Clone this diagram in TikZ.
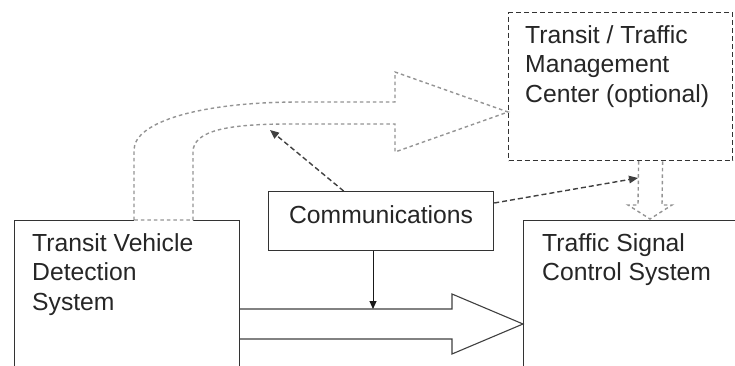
\documentclass[tikz,border=0pt]{standalone}
\usepackage{fontspec}
\setmainfont{Liberation Sans}
\usetikzlibrary{arrows.meta,positioning,calc}

\begin{document}
\begin{tikzpicture}[
  x=1pt, y=-1pt,
  font=\fontsize{24.7}{29.5}\selectfont,
  sysbox/.style={draw=black!80, line width=1.2pt, inner sep=0pt, anchor=north west},
  optbox/.style={sysbox, dash pattern=on 5pt off 3pt},
  txt/.style={inner sep=0pt, align=left, anchor=north west, text=black!85},
  ar/.style={-{Triangle[length=8pt,width=7pt]}, line width=1pt, black!90},
  dar/.style={-{Triangle[length=9pt,width=7.5pt]}, line width=1.4pt, black!75,
              dash pattern=on 5pt off 3pt},
  hollow/.style={line width=1.1pt, black!75, line join=miter},
  dotline/.style={line width=1.4pt, black!42, dash pattern=on 3.5pt off 3pt}
]
\path[fill=white, use as bounding box] (0,0) rectangle (735,366);
\clip (0,0) rectangle (735,366);

% --- system boxes (cut by the page edge) --------------------------------
\node[sysbox, minimum width=225pt, minimum height=200pt] (tvds) at (14,220) {};
\node[sysbox, minimum width=250pt, minimum height=200pt] (tscs) at (523,220) {};
\node[sysbox, minimum width=225pt, minimum height=59pt] (comm) at (268,191) {};
\node[optbox, minimum width=224pt, minimum height=148pt] (tmc) at (508,12) {};

\node[txt] (tvdstxt) at ([xshift=18pt, yshift=-13pt]tvds.north west)
     {Transit Vehicle\\Detection\\System};
\node[txt] (tscstxt) at ([xshift=19pt, yshift=-13pt]tscs.north west)
     {Traffic Signal\\Control System};
\node[txt] (tmctxt) at ([xshift=17pt, yshift=-13pt]tmc.north west)
     {Transit / Traffic\\Management\\Center (optional)};
\node[txt, anchor=north] (commtxt) at ([yshift=-14pt]comm.north) {Communications};

% --- free ends ----------------------------------------------------------
\coordinate (shafttop) at (373,309);
\coordinate (tmcin) at (638,178);
\coordinate (loopin) at (270,130);
\coordinate (dropin) at (650,219);

% --- dotted loop arrow towards the centre -------------------------------
\draw[white, line width=2.4pt] (134,220) -- (193,220);
\draw[dotline] (134,220) -- (134,150) .. controls (134,122) and (200,102) .. (300,102)
  -- (395,102) -- (395,72) -- (tmc.west |- 0,112) -- (395,152) -- (395,124)
  -- (290,124) .. controls (230,124) and (193,130) .. (193,152) -- (193,220) -- cycle;

% --- dotted drop arrow from the centre ----------------------------------
\draw[dotline] ([xshift=18pt]tmc.south) -- (638,205) -- (628,205) -- (dropin)
  -- (672,205) -- (662,205) -- ([xshift=42pt]tmc.south);

% --- direct link --------------------------------------------------------
\draw[hollow] (tvds.east |- 0,309) -- (452,309) -- (452,294) -- (tscs.west |- 0,324)
  -- (452,354) -- (452,339) -- (tvds.east |- 0,339);

% --- communications links -----------------------------------------------
\draw[ar] (comm.south -| shafttop) -- (shafttop);
\draw[dar] ([yshift=-12pt]comm.north east) -- (tmcin);
\draw[dar] ([xshift=-37.5pt]comm.north) -- (loopin);

\end{tikzpicture}
\end{document}
